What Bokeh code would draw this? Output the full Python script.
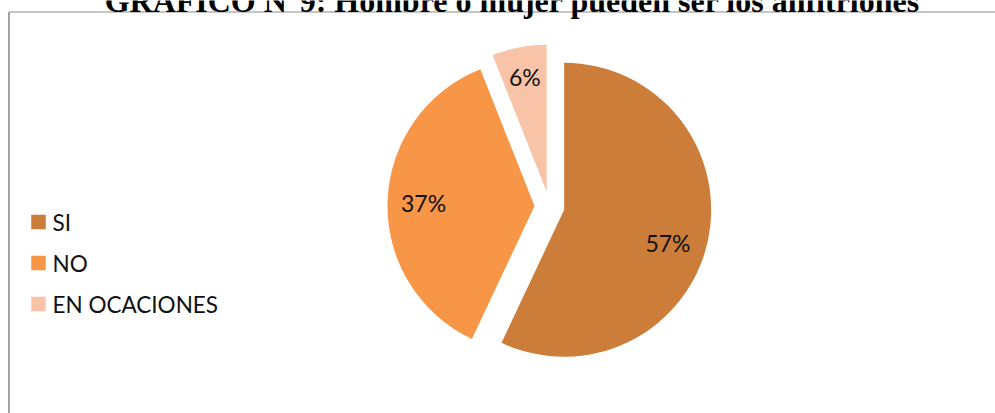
import math
from bokeh.plotting import figure
from bokeh.models import Range1d, Label
from bokeh.core.properties import value
from bokeh.embed import file_html
from bokeh.resources import INLINE

# ---- data ----
title = "GRÁFICO N°9: Hombre o mujer pueden ser los anfitriones"
categories = ["SI", "NO", "EN OCACIONES"]
percents = [57, 37, 6]
colors = ["#CD7D3A", "#F79646", "#F9C3A7"]

W, H = 995, 413
p = figure(width=W, height=H, output_backend="svg", toolbar_location=None,
           x_range=Range1d(0, W), y_range=Range1d(0, H),
           x_axis_type=None, y_axis_type=None, min_border=0,
           background_fill_color="white", border_fill_color="white")
p.outline_line_color = None
p.grid.visible = False

def sy(y):
    return H - y

# frame lines (chart area border, partially visible)
p.segment(x0=[8.5], y0=[sy(11.5)], x1=[W], y1=[sy(11.5)], line_color="#8c8c8c", line_width=1.2)
p.segment(x0=[8.5], y0=[sy(11.5)], x1=[8.5], y1=[0], line_color="#8c8c8c", line_width=1.6)

# title (clipped at top, as in the reference)
p.add_layout(Label(x=512, y=sy(0), text=title, text_align="center", text_baseline="alphabetic",
                   text_font="Liberation Serif", text_font_style="bold", text_font_size="32px",
                   text_color="black"))

# pie
cx, cy, r, explode = 549, sy(206), 147, 15
lab_r = [109, 111, 117]
total = sum(percents)
cum = 0.0
xs, ys, starts, ends, lx, ly, labels = [], [], [], [], [], [], []
for i, v in enumerate(percents):
    a0 = math.pi / 2 - 2 * math.pi * cum / total
    cum += v
    a1 = math.pi / 2 - 2 * math.pi * cum / total
    mid = (a0 + a1) / 2
    ox = cx + explode * math.cos(mid)
    oy = cy + explode * math.sin(mid)
    xs.append(ox); ys.append(oy); starts.append(a0); ends.append(a1)
    lmid = mid - (0.09 if i == 0 else 0.0)
    lx.append(ox + lab_r[i] * math.cos(lmid)); ly.append(oy + lab_r[i] * math.sin(lmid))
    labels.append(f"{v}%")

p.wedge(x=xs, y=ys, radius=r, start_angle=starts, end_angle=ends, direction="clock",
        fill_color=colors, line_color=None)
p.text(x=lx, y=ly, text=labels, text_align="center", text_baseline="middle",
       text_font=value("Lato"), text_font_size="23px", text_color="#111111")

# legend
leg_x, leg_y0, leg_dy, sq = 38, sy(221.5), -41, 14.5
for i, (c, name) in enumerate(zip(colors, categories)):
    yy = leg_y0 + i * leg_dy
    p.rect(x=[leg_x], y=[yy], width=sq, height=sq, fill_color=c, line_color=None)
    p.text(x=[52], y=[yy], text=[name], text_align="left", text_baseline="middle",
           text_font=value("Lato"), text_font_size="22.5px", text_color="#111111")

open("out.html", "w").write(file_html(p, INLINE))
